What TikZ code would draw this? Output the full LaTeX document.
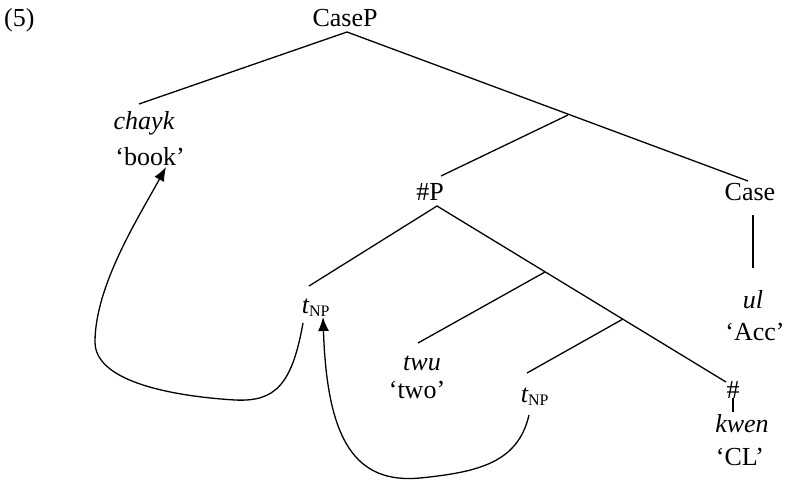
\documentclass[tikz,border=0pt]{standalone}
\usepackage{fontspec}
\setmainfont{Liberation Serif}
\usetikzlibrary{arrows.meta}
\begin{document}
\begin{tikzpicture}[x=1pt,y=-1pt,
  lab/.style={anchor=base,inner sep=0pt,font=\fontsize{26}{30}\selectfont},
  br/.style={line width=1.3pt},
  mv/.style={line width=1.3pt,-{Latex[length=14pt,width=11pt]}}]
\useasboundingbox (0,0) rectangle (787,484);
% labels
\node[lab,anchor=base west] (ex) at (4,27) {(5)};
\node[lab] (caseP) at (345,27) {CaseP};
\node[lab] (chayk) at (144,130) {\itshape chayk};
\node[lab] (book) at (150,165) {`book'};
\node[lab] (numP) at (430,200) {\#P};
\node[lab] (case) at (750,200) {Case};
\node[lab] (ul) at (753,308) {\itshape ul};
\node[lab] (acc) at (755,340) {`Acc'};
\node[lab] (t1) at (316,313) {\itshape t\textsubscript{\normalfont\fontsize{16}{18}\selectfont NP}};
\node[lab] (twu) at (422,370) {\itshape twu};
\node[lab] (two) at (417,398) {`two'};
\node[lab] (t2) at (535,402) {\itshape t\textsubscript{\normalfont\fontsize{16}{18}\selectfont NP}};
\node[lab] (hash) at (733,398) {\#};
\node[lab] (kwen) at (742,432) {\itshape kwen};
\node[lab] (cl) at (740,465) {`CL'};
% attachment points
\coordinate (caseP-b) at (347,32);
\coordinate (chayk-t) at (139,104);
\coordinate (bar1) at (568,115);
\coordinate (case-t) at (748,181);
\coordinate (numP-t) at (441,176);
\coordinate (numP-b) at (437,206);
\coordinate (t1-t) at (309,286);
\coordinate (bar2) at (545,272);
\coordinate (twu-t) at (418,343);
\coordinate (bar3) at (623,319);
\coordinate (t2-t) at (527,373);
\coordinate (hash-t) at (726,382);
\coordinate (case-b) at (753,215);
\coordinate (ul-t) at (753,268);
\coordinate (hash-b) at (733,398);
\coordinate (kwen-t) at (733,412);
% branches
\draw[br] (chayk-t) -- (caseP-b) -- (case-t);
\draw[br] (numP-t) -- (bar1);
\draw[br] (t1-t) -- (numP-b) -- (hash-t);
\draw[br] (twu-t) -- (bar2);
\draw[br] (t2-t) -- (bar3);
\draw[br] (case-b) -- (ul-t);
\draw[br] (hash-b) -- (kwen-t);
% movement arrows
\coordinate (t1-b) at (303,323);
\coordinate (book-b) at (166,167);
\coordinate (t2-b) at (529,415);
\coordinate (t1-bb) at (323,317);
\draw[mv] (t1-b) .. controls (292,385) and (275,402) .. (235,400)
  .. controls (185,397) and (95,385) .. (95,342)
  .. controls (95,285) and (140,215) .. (book-b);
\draw[mv] (t2-b) .. controls (518,462) and (480,472) .. (420,478)
  .. controls (355,484) and (327,440) .. (t1-bb);
\end{tikzpicture}
\end{document}
